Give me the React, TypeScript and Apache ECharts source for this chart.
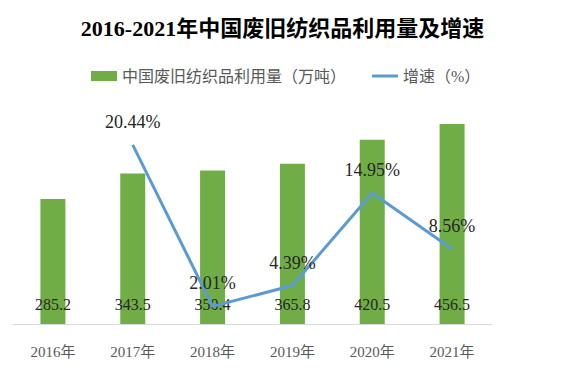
import React, { useEffect, useRef } from "react";
import * as echarts from "echarts";

const categories = ["2016年", "2017年", "2018年", "2019年", "2020年", "2021年"];
const usage = [285.2, 343.5, 350.4, 365.8, 420.5, 456.5];
const growth = [null, 20.44, 2.01, 4.39, 14.95, 8.56];
const titleText = "2016-2021年中国废旧纺织品利用量及增速";
const barName = "中国废旧纺织品利用量（万吨）";
const lineName = "增速（%）";

const FONT = "'Liberation Serif', 'Noto Sans CJK SC', serif";

export default function App() {
  const ref = useRef<HTMLDivElement>(null);
  useEffect(() => {
    if (!ref.current) return;
    const chart = echarts.init(ref.current, null, { renderer: "svg" });
    chart.setOption({
      animation: false,
      backgroundColor: "#ffffff",
      title: {
        text: titleText,
        left: "center",
        top: 12,
        textStyle: { fontFamily: FONT, fontSize: 22, fontWeight: "bold", color: "#000000" },
      },
      legend: {
        left: 86,
        top: 63,
        padding: 5,
        itemWidth: 26,
        itemHeight: 10,
        itemGap: 26,
        textStyle: { fontFamily: FONT, fontSize: 16, color: "#595959" },
        data: [
          { name: barName, icon: "rect" },
          { name: lineName, icon: "path://M0,0 L26,0 L26,3 L0,3 Z" },
        ],
      },
      grid: { left: 13, right: 73, top: 105, bottom: 51 },
      xAxis: {
        type: "category",
        data: categories,
        axisLine: { lineStyle: { color: "#d9d9d9", width: 1 } },
        axisTick: { show: false },
        axisLabel: { fontFamily: FONT, fontSize: 15, color: "#595959", margin: 20 },
      },
      yAxis: [
        { type: "value", min: 0, max: 500, show: false, splitLine: { show: false } },
        { type: "value", min: 0, max: 25, show: false, splitLine: { show: false } },
      ],
      series: [
        {
          name: barName,
          type: "bar",
          data: usage,
          barWidth: 25,
          itemStyle: { color: "#70AD47" },
          label: {
            show: true,
            position: "insideBottom",
            distance: 12,
            fontFamily: FONT,
            fontSize: 16,
            color: "#262626",
          },
        },
        {
          name: lineName,
          type: "line",
          yAxisIndex: 1,
          data: growth,
          symbol: "circle",
          symbolSize: 0.1,
          showSymbol: true,
          lineStyle: { color: "#5B9BD5", width: 3 },
          itemStyle: { color: "#5B9BD5" },
          label: {
            show: true,
            position: "top",
            distance: 14,
            fontFamily: FONT,
            fontSize: 18,
            color: "#262626",
            formatter: (p: any) => p.value.toFixed(2) + "%",
          },
        },
      ],
    });
    return () => chart.dispose();
  }, []);
  return (
    <div
      ref={ref}
      style={{ position: "fixed", left: 0, top: 0, width: 565, height: 375 }}
    />
  );
}
